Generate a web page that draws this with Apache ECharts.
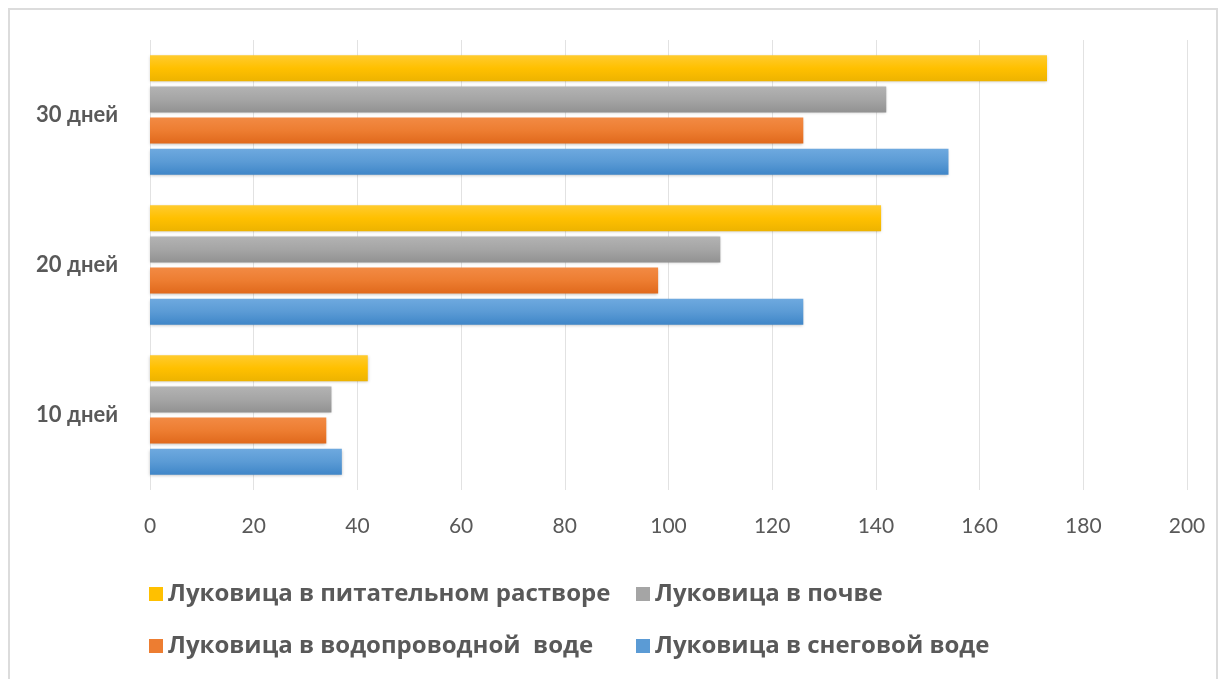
<!DOCTYPE html>
<html>
<head>
<meta charset="utf-8">
<style>
  html, body { margin: 0; padding: 0; background: #fff; }
  #frame { position: absolute; left: 8px; top: 8px; width: 1210px; height: 680px; border: 2px solid #dcdcdc; box-sizing: border-box; }
  #chart { position: absolute; left: 0; top: 0; width: 1224px; height: 679px; }
</style>
<script src="https://cdn.jsdelivr.net/npm/echarts@6/dist/echarts.min.js"></script>
</head>
<body>
<div id="frame"></div>
<div id="chart"></div>
<script>
// Categories (bottom to top) and series values
const categories = ['10 дней', '20 дней', '30 дней'];
const seriesNames = [
  'Луковица в питательном растворе',
  'Луковица в почве',
  'Луковица в водопроводной  воде',
  'Луковица в снеговой воде'
];
const nutrient = [42, 141, 173];
const soil = [35, 110, 142];
const tapWater = [34, 98, 126];
const snowWater = [37, 126, 154];
const xTicks = [0, 20, 40, 60, 80, 100, 120, 140, 160, 180, 200];

// Series are listed top-to-bottom within each category group
const values = [nutrient, soil, tapWater, snowWater];
const baseColors = ['#FFC000', '#A5A5A5', '#ED7D31', '#5B9BD5'];
const topColors = ['#FFCB2E', '#B3B3B3', '#F28A44', '#6EA9DF'];
const bottomColors = ['#EDB300', '#929292', '#E0691C', '#3F86C8'];

const chart = echarts.init(document.getElementById('chart'));

function grad(i) {
  return new echarts.graphic.LinearGradient(0, 0, 0, 1, [
    { offset: 0, color: topColors[i] },
    { offset: 0.5, color: baseColors[i] },
    { offset: 1, color: bottomColors[i] }
  ]);
}

const legendText = { fontFamily: 'Open Sans', fontSize: 24, fontWeight: 'bold', color: '#595959' };
function legendAt(idx, left, top) {
  return {
    data: [{ name: seriesNames[idx], icon: 'rect', itemStyle: { color: baseColors[idx] } }],
    left: left, top: top, itemWidth: 14, itemHeight: 14, itemGap: 6,
    textStyle: legendText, selectedMode: false
  };
}

chart.setOption({
  animation: false,
  grid: { left: 150, right: 37, top: 40, bottom: 189, containLabel: false },
  legend: [
    legendAt(0, 144, 577),
    legendAt(1, 631, 577),
    legendAt(2, 144, 629),
    legendAt(3, 631, 629)
  ],
  xAxis: {
    type: 'value', min: xTicks[0], max: xTicks[xTicks.length - 1], interval: 20,
    axisLine: { show: false }, axisTick: { show: false },
    splitLine: { lineStyle: { color: '#e2e2e2', width: 1 } },
    axisLabel: { margin: 26, fontFamily: 'Lato', fontSize: 21, color: '#595959' }
  },
  yAxis: {
    type: 'category', data: categories,
    axisLine: { show: false }, axisTick: { show: false },
    axisLabel: { margin: 32, fontFamily: 'Lato', fontSize: 22, fontWeight: 'bold', color: '#595959' }
  },
  series: values.map((v, i) => ({
    name: seriesNames[i], type: 'bar', data: v,
    barWidth: 26, barGap: '20%', barCategoryGap: '18%',
    itemStyle: { color: grad(i), shadowColor: 'rgba(0,0,0,0.25)', shadowBlur: 3, shadowOffsetY: 1 }
  }))
});
</script>
</body>
</html>
